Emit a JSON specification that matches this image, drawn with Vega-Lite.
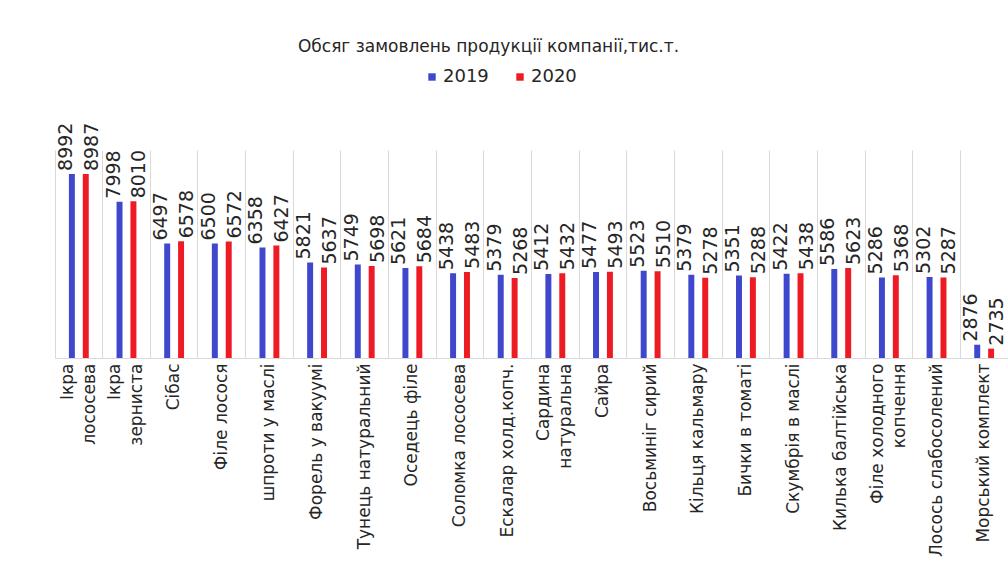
{
  "$schema": "https://vega.github.io/schema/vega-lite/v6.json",
  "width": 953,
  "height": 208,
  "autosize": {"type": "none"},
  "padding": {"left": 55, "top": 150, "right": 0, "bottom": 226},
  "background": "white",
  "config": {
    "font": "DejaVu Sans",
    "view": {"stroke": null}
  },
  "title": {
    "text": "Обсяг замовлень продукції компанії,тис.т.",
    "fontSize": 17,
    "fontWeight": "normal",
    "color": "#262626",
    "anchor": "middle",
    "frame": "group",
    "offset": 12,
    "dx": -43
  },
  "data": {
    "values": [
      {"product": "Ікра лососева", "year": "2019", "value": 8992},
      {"product": "Ікра лососева", "year": "2020", "value": 8987},
      {"product": "Ікра зерниста", "year": "2019", "value": 7998},
      {"product": "Ікра зерниста", "year": "2020", "value": 8010},
      {"product": "Сібас", "year": "2019", "value": 6497},
      {"product": "Сібас", "year": "2020", "value": 6578},
      {"product": "Філе лосося", "year": "2019", "value": 6500},
      {"product": "Філе лосося", "year": "2020", "value": 6572},
      {"product": "шпроти у маслі", "year": "2019", "value": 6358},
      {"product": "шпроти у маслі", "year": "2020", "value": 6427},
      {"product": "Форель у вакуумі", "year": "2019", "value": 5821},
      {"product": "Форель у вакуумі", "year": "2020", "value": 5637},
      {"product": "Тунець натуральний", "year": "2019", "value": 5749},
      {"product": "Тунець натуральний", "year": "2020", "value": 5698},
      {"product": "Оседець філе", "year": "2019", "value": 5621},
      {"product": "Оседець філе", "year": "2020", "value": 5684},
      {"product": "Соломка лососева", "year": "2019", "value": 5438},
      {"product": "Соломка лососева", "year": "2020", "value": 5483},
      {"product": "Ескалар холд.копч.", "year": "2019", "value": 5379},
      {"product": "Ескалар холд.копч.", "year": "2020", "value": 5268},
      {"product": "Сардина натуральна", "year": "2019", "value": 5412},
      {"product": "Сардина натуральна", "year": "2020", "value": 5432},
      {"product": "Сайра", "year": "2019", "value": 5477},
      {"product": "Сайра", "year": "2020", "value": 5493},
      {"product": "Восьминіг сирий", "year": "2019", "value": 5523},
      {"product": "Восьминіг сирий", "year": "2020", "value": 5510},
      {"product": "Кільця кальмару", "year": "2019", "value": 5379},
      {"product": "Кільця кальмару", "year": "2020", "value": 5278},
      {"product": "Бички в томаті", "year": "2019", "value": 5351},
      {"product": "Бички в томаті", "year": "2020", "value": 5288},
      {"product": "Скумбрія в маслі", "year": "2019", "value": 5422},
      {"product": "Скумбрія в маслі", "year": "2020", "value": 5438},
      {"product": "Килька балтійська", "year": "2019", "value": 5586},
      {"product": "Килька балтійська", "year": "2020", "value": 5623},
      {"product": "Філе холодного копчення", "year": "2019", "value": 5286},
      {"product": "Філе холодного копчення", "year": "2020", "value": 5368},
      {"product": "Лосось слабосолений", "year": "2019", "value": 5302},
      {"product": "Лосось слабосолений", "year": "2020", "value": 5287},
      {"product": "Морський комплект", "year": "2019", "value": 2876},
      {"product": "Морський комплект", "year": "2020", "value": 2735}
    ]
  },
  "encoding": {
    "x": {
      "field": "product",
      "type": "nominal",
      "sort": null,
      "title": null,
      "scale": {"paddingInner": 0, "paddingOuter": 0},
      "axis": {
        "labelAngle": -90,
        "labelFontSize": 17,
        "labelColor": "#262626",
        "labelPadding": 5,
        "labelLineHeight": 22,
        "labelLimit": 0,
        "labelOffset": {
          "condition": {
            "test": "indexof(['Ікра лососева', 'Ікра зерниста', 'Сардина натуральна', 'Філе холодного копчення'], datum.value) >= 0",
            "value": -11
          },
          "value": 0
        },
        "labelExpr": "datum.label == 'Ікра лососева' ? ['Ікра', 'лососева'] : datum.label == 'Ікра зерниста' ? ['Ікра', 'зерниста'] : datum.label == 'Сардина натуральна' ? ['Сардина', 'натуральна'] : datum.label == 'Філе холодного копчення' ? ['Філе холодного', 'копчення'] : datum.label",
        "labelOverlap": false,
        "labelBound": false,
        "ticks": false,
        "grid": true,
        "gridColor": "#d9d9d9",
        "bandPosition": 0,
        "domainColor": "#d9d9d9",
        "domainWidth": 1
      }
    },
    "xOffset": {
      "field": "year",
      "type": "nominal",
      "scale": {"paddingInner": 0.57, "paddingOuter": 1}
    },
    "y": {
      "field": "value",
      "type": "quantitative",
      "scale": {"domain": [2400, 9850], "zero": false, "nice": false},
      "axis": null
    }
  },
  "layer": [
    {
      "mark": {"type": "bar", "clip": true},
      "encoding": {
        "color": {
          "field": "year",
          "type": "nominal",
          "scale": {"domain": ["2019", "2020"], "range": ["#3F48CC", "#ED1C24"]},
          "legend": {
            "title": null,
            "orient": "none",
            "direction": "horizontal",
            "legendX": 368,
            "legendY": -82,
            "symbolType": "square",
            "symbolSize": 55,
            "labelFontSize": 18,
            "labelColor": "#262626",
            "labelOffset": 2,
            "columnPadding": 22,
            "encode": {
              "symbols": {
                "update": {
                  "fill": {"signal": "datum.value == '2019' ? '#4472C4' : '#C0504D'"},
                  "stroke": {"value": "transparent"}
                }
              }
            }
          }
        }
      }
    },
    {
      "transform": [{"filter": "datum.year == '2019'"}],
      "mark": {"type": "text", "angle": -90, "align": "left", "baseline": "middle", "dx": 3, "dy": -6, "fontSize": 19, "color": "#262626"},
      "encoding": {"text": {"field": "value", "type": "quantitative", "format": "d"}}
    },
    {
      "transform": [{"filter": "datum.year == '2020'"}],
      "mark": {"type": "text", "angle": -90, "align": "left", "baseline": "middle", "dx": 3, "dy": 6, "fontSize": 19, "color": "#262626"},
      "encoding": {"text": {"field": "value", "type": "quantitative", "format": "d"}}
    }
  ]
}
